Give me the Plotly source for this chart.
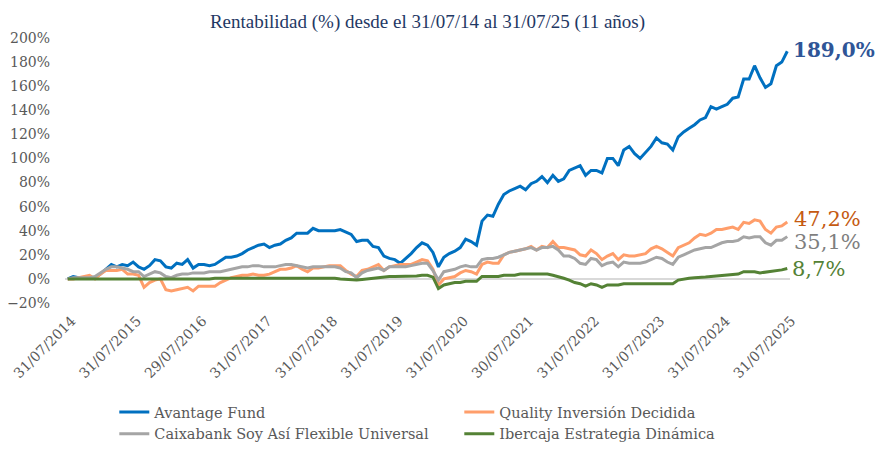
import plotly.graph_objects as go

# monthly returns (%), 31/07/2014 .. 31/07/2025
avantage = [0, 2, 1, 1, 1, 1, 4, 8, 12, 10, 12, 11, 14, 10, 8, 11, 16, 15, 10, 9,
            13, 12, 16, 9, 12, 12, 11, 12, 15, 18, 18, 19, 21, 24, 26, 28, 29, 26, 28, 29,
            32, 34, 38, 38, 38, 42, 40, 40, 40, 40, 41, 39, 37, 31, 32, 32, 27, 26, 19, 17,
            16, 13, 17, 21, 26, 30, 28, 22, 10, 18, 21, 23, 26, 33, 31, 28, 48, 53, 52, 62,
            70, 73, 75, 77, 74, 79, 81, 85, 80, 86, 81, 83, 90, 92, 94, 86, 90, 90, 88, 100,
            100, 94, 107, 110, 104, 100, 105, 110, 117, 113, 112, 107, 118, 122, 125, 128, 132, 134, 143, 141,
            143, 145, 150, 151, 166, 166, 177, 167, 159, 162, 177, 180, 189.0]

quality = [0, 0, 1, 2, 3, 0, 4, 7, 7, 7, 8, 4, 4, 3, -7, -3, -1, 0, -9, -10,
           -9, -8, -7, -10, -6, -6, -6, -6, -3, -1, 1, 2, 3, 3, 4, 3, 3, 4, 6, 8,
           8, 9, 11, 8, 6, 9, 9, 10, 11, 11, 11, 7, 4, 2, 7, 8, 10, 12, 7, 10,
           11, 12, 12, 12, 14, 16, 15, 8, -5, 0, 1, 2, 5, 7, 6, 4, 12, 14, 13, 13,
           20, 22, 23, 24, 25, 27, 24, 27, 26, 31, 26, 26, 25, 24, 20, 19, 24, 21, 16, 19,
           21, 16, 20, 19, 19, 20, 21, 25, 27, 25, 22, 19, 26, 28, 30, 34, 37, 36, 38, 41,
           41, 42, 43, 41, 47, 46, 49, 48, 41, 38, 43, 44, 47.2]

caixabank = [0, 1, 1, 1, 1, 2, 5, 8, 10, 10, 9, 8, 6, 6, 2, 4, 6, 5, 2, 1,
             3, 4, 4, 5, 5, 5, 6, 6, 6, 7, 8, 9, 10, 10, 11, 11, 10, 10, 10, 11,
             12, 12, 11, 10, 9, 10, 10, 10, 10, 10, 9, 6, 5, 1, 5, 7, 8, 9, 7, 10,
             10, 10, 10, 11, 12, 13, 13, 7, -1, 6, 7, 8, 10, 11, 10, 10, 16, 17, 17, 18,
             20, 22, 23, 24, 25, 26, 24, 26, 26, 27, 24, 19, 19, 17, 13, 12, 17, 16, 11, 13,
             14, 10, 14, 13, 13, 13, 14, 16, 18, 17, 14, 12, 18, 20, 22, 24, 25, 26, 26, 28,
             30, 31, 31, 32, 35, 34, 35, 35, 30, 28, 32, 32, 35.1]

ibercaja = [0, 0, 0, 0, 0, 0, 0, -0.5, -0.5, -0.5, 0, 0, 0, 0, -0.5, 0, 0, 0, 0, 0,
            0, 0, 0, 0, 0, 0, 0, 0.5, 0.5, 0.5, 1, 1, 1, 1, 1, 1, 1, 1, 1, 1,
            1, 1, 1, 1, 0.5, 0.5, 0.5, 0.5, 0.5, 0.5, 0, -0.5, -1, -1, -0.5, 0, 1, 1.5, 2, 2,
            2, 2, 2, 2.5, 2.5, 3, 3, 1.5, -8, -5, -4, -3, -3, -2, -2, -2, 2, 2, 2, 2,
            3, 3, 3, 4, 4, 4, 4, 4, 4, 3, 2, 0.5, -1, -3, -4, -6, -4, -5, -7, -5,
            -5, -5, -4, -4, -4, -4, -4, -4, -4, -3.5, -4, -4, -1, 0, 0.5, 1, 1, 1.5, 2, 2.5,
            3, 3.5, 4, 4, 6, 6, 6, 5, 5.5, 6.5, 7, 7.5, 8.7]

tick_labels = ["31/07/2014", "31/07/2015", "29/07/2016", "31/07/2017", "31/07/2018",
               "31/07/2019", "31/07/2020", "30/07/2021", "31/07/2022", "31/07/2023",
               "31/07/2024", "31/07/2025"]

names = ["Avantage Fund", "Quality Inversión Decidida",
         "Caixabank Soy Así Flexible Universal", "Ibercaja Estrategia Dinámica"]
series = [avantage, quality, caixabank, ibercaja]
colors = ["#0070C0", "#FF9E6B", "#A5A5A5", "#548235"]
label_colors = ["#2F5597", "#C55A11", "#7F7F7F", "#548235"]
label_dy = [1, 3, -5, -1]
label_dx = [4, 5, 5, 3]

months = list(range(len(avantage)))

fig = go.Figure()
for name, vals, col in zip(names, series, colors):
    fig.add_trace(go.Scatter(x=months, y=vals, mode="lines", name=name,
                             line=dict(color=col, width=3)))

for i, (vals, col) in enumerate(zip(series, label_colors)):
    txt = f"{vals[-1]:.1f}".replace(".", ",") + "%"
    if i == 0:
        txt = "<b>" + txt + "</b>"
    fig.add_annotation(x=months[-1], y=vals[-1], xref="x", yref="y",
                       text=txt, showarrow=False, xanchor="left",
                       xshift=label_dx[i], yshift=label_dy[i],
                       font=dict(family="DejaVu Serif", size=20 if i == 0 else 21, color=col))

# page body has an 8px margin, so the figure is 8px smaller and shifted
fig.update_layout(
    width=878, height=445,
    margin=dict(l=57, r=96, t=30, b=150),
    plot_bgcolor="white", paper_bgcolor="white",
    title=dict(text="Rentabilidad (%) desde el 31/07/14 al 31/07/25 (11 años)",
               x=0.5, xref="paper", xanchor="center", y=0.97, yanchor="middle",
               font=dict(family="Liberation Serif", size=19, color="#1F3864")),
    showlegend=True,
    legend=dict(orientation="h", x=0.068, xanchor="left",
                yref="container", y=0.128, yanchor="top",
                entrywidth=300, entrywidthmode="pixels", itemwidth=30,
                font=dict(family="DejaVu Serif", size=14.5, color="#595959"),
                tracegroupgap=0),
)
fig.update_xaxes(range=[-0.5, len(months) - 0.5], automargin=False,
                 tickvals=months[::12], ticktext=tick_labels, tickangle=-45,
                 ticklabeloverflow="allow", ticklabelshift=4, ticklabelstandoff=6,
                 tickfont=dict(family="DejaVu Serif", size=14, color="#595959"),
                 showgrid=False, showline=False, zeroline=False, ticks="")
fig.update_yaxes(range=[-20, 200], dtick=20, ticksuffix="%", automargin=False,
                 ticklabelstandoff=14,
                 tickfont=dict(family="DejaVu Serif", size=14, color="#595959"),
                 showgrid=False, showline=False, zeroline=True,
                 zerolinecolor="#D9D9D9", zerolinewidth=1.5)

fig.write_html("out.html")
